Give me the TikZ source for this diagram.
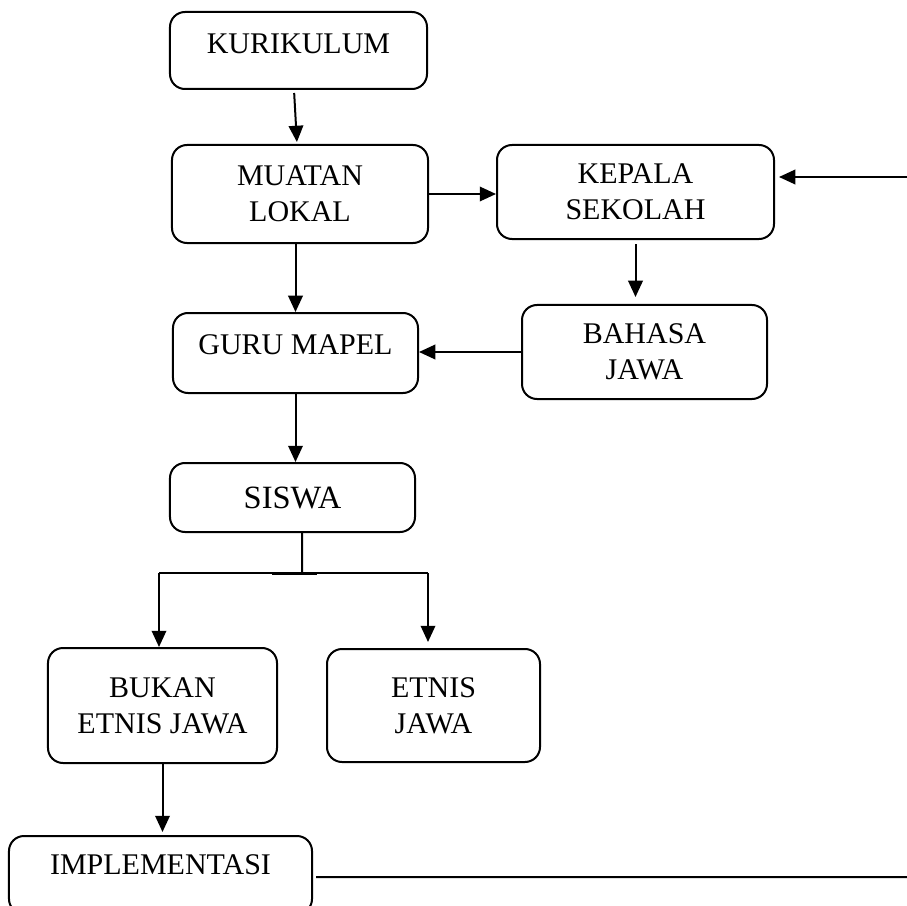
\documentclass[tikz,border=0pt]{standalone}
\usepackage{fontspec}
\setmainfont{Liberation Serif}
\usepackage{tikz}
\usetikzlibrary{arrows.meta}

\begin{document}
\begin{tikzpicture}[
        x=0.4pt, y=-0.4pt,
        box/.style 2 args={
            draw=black,
            rounded corners=6pt,
            line width=0.8pt,
            align=center,
            inner sep=0pt,
            font=\fontsize{12}{14.4}\selectfont,
            minimum width=#1,
            minimum height=#2
        },
        lift/.style={text depth=#1},
        flow/.style={
            -{Triangle[length=6.5pt,width=5.8pt]},
            line width=0.8pt,
            draw=black
        },
        link/.style={
            line width=0.8pt,
            draw=black
        }
    ]
        \clip (0,0) rectangle (907,906);

        \node[box={102.8pt}{30.8pt}, lift=5.6pt] (kurikulum) at (298.5,50.5) {KURIKULUM};
        \node[box={102.4pt}{39.2pt}] (muatan) at (300,194) {MUATAN\\LOKAL};
        \node[box={110.8pt}{37.6pt}] (kepala) at (635.5,192) {KEPALA\\SEKOLAH};
        \node[box={98pt}{32pt}, lift=6.4pt] (guru) at (295.5,353) {GURU MAPEL};
        \node[box={98pt}{37.6pt}] (bahasa) at (644.5,352) {BAHASA\\JAWA};
        \node[box={98pt}{27.6pt}, font=\fontsize{13}{15.6}\selectfont] (siswa) at (292.5,497.5) {SISWA};
        \node[box={91.6pt}{46pt}] (bukan) at (162.5,705.5) {BUKAN\\ETNIS JAWA};
        \node[box={85.2pt}{45.2pt}] (etnis) at (433.5,705.5) {ETNIS\\JAWA};
        \node[box={121.2pt}{31.2pt}, lift=8pt] (impl) at (160.5,875) {IMPLEMENTASI};

        \coordinate (outer) at (907,177);
        \coordinate (fork) at (302,573);
        \coordinate (forkL) at (159,573);
        \coordinate (forkR) at (428,573);
        \coordinate (edge) at (907,877);

        \draw[flow, shorten <=1.2pt, shorten >=0.8pt] ([xshift=-1.8pt]kurikulum.south) -- ([xshift=-1.2pt]muatan.north);
        \draw[flow] (muatan.east) -- (muatan.east -| kepala.west);
        \draw[flow, shorten >=1.6pt] (outer) -- (outer -| kepala.east);
        \draw[flow, shorten <=1.6pt, shorten >=2.8pt] (kepala.south) -- (kepala.south |- bahasa.north);
        \draw[flow] (bahasa.west) -- (bahasa.west -| guru.east);
        \draw[flow] (muatan.south -| guru.north) -- (guru.north);
        \draw[flow] (guru.south) -- (guru.south |- siswa.north);
        \draw[link] ([xshift=3.8pt]siswa.south) -- (fork);
        \draw[link] (forkL) -- (forkR);
        \draw[line width=1.2pt] ([xshift=-12pt]fork) -- ([xshift=6pt]fork);
        \draw[flow] (forkL) -- (forkL |- bukan.north);
        \draw[flow, shorten >=2.4pt] (forkR) -- (forkR |- etnis.north);
        \draw[flow, shorten >=1.2pt] (bukan.south) -- (bukan.south |- impl.north);
        \draw[link, shorten <=1.2pt] ([yshift=-0.8pt]impl.east) -- (edge);
    \end{tikzpicture}
\end{document}
